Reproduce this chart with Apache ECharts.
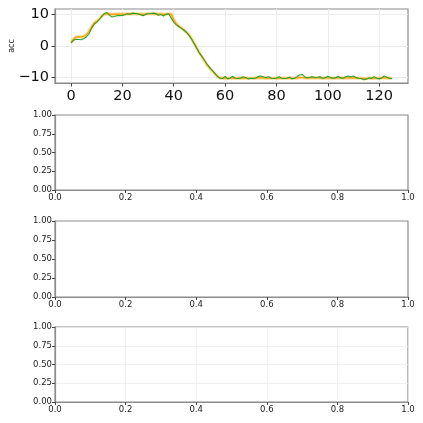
<!DOCTYPE html>
<html>
<head>
<meta charset="utf-8">
<script src="https://cdn.jsdelivr.net/npm/echarts@6/dist/echarts.min.js"></script>
<style>
  html, body { margin: 0; padding: 0; background: #fff; }
  #chart { width: 423px; height: 423px; }
</style>
</head>
<body>
<div id="chart"></div>
<script>
// step index 0..125
const steps = Array.from({length: 126}, (_, i) => i);

// green: measured acc
const accGreen = [
  0.9, 1.8, 2.1, 2.0, 1.9, 2.3, 2.8, 3.8, 5.5, 6.8,
  7.4, 8.3, 9.3, 10.2, 10.5, 9.6, 9.1, 9.3, 9.5, 9.5,
  9.6, 9.8, 10.1, 10.0, 10.3, 10.2, 10.1, 9.8, 9.5, 9.9,
  10.1, 10.2, 10.3, 10.2, 9.6, 9.9, 9.4, 9.9, 10.1, 8.8,
  7.4, 6.6, 6.0, 5.5, 4.9, 4.2, 3.2, 2.0, 0.6, -0.8,
  -2.3, -3.4, -4.6, -5.8, -6.8, -7.7, -8.6, -9.6, -10.2, -10.3,
  -9.6, -10.4, -10.1, -9.6, -10.2, -10.3, -10.1, -9.7, -10.0, -10.4,
  -10.2, -10.3, -10.1, -9.6, -9.5, -9.8, -10.0, -9.7, -10.2, -10.3,
  -10.1, -9.7, -10.2, -10.3, -10.2, -9.9, -10.4, -10.2, -9.7, -9.2,
  -9.0, -9.7, -10.1, -9.9, -9.7, -10.0, -9.9, -9.7, -10.2, -10.1,
  -9.6, -10.0, -10.2, -10.1, -9.6, -10.1, -10.2, -9.7, -9.5, -9.8,
  -9.5, -10.0, -10.2, -10.3, -10.7, -10.5, -10.1, -10.2, -9.7, -10.2,
  -10.4, -10.1, -9.5, -9.9, -10.3, -10.3
];

// orange: smoothed acc
const accOrange = [
  1.0, 2.2, 2.8, 2.9, 2.8, 3.0, 3.5, 4.6, 6.0, 7.2,
  7.8, 8.4, 9.4, 10.0, 10.1, 10.0, 9.9, 10.0, 10.0, 10.0,
  10.0, 10.0, 10.1, 10.0, 10.1, 10.1, 10.0, 10.0, 9.9, 10.0,
  10.1, 10.1, 10.1, 10.0, 10.0, 10.0, 9.9, 10.0, 10.0, 10.0,
  8.2, 7.0, 6.2, 5.6, 5.0, 4.3, 3.4, 2.2, 0.8, -0.7,
  -2.2, -3.4, -4.7, -6.0, -7.0, -7.9, -8.8, -9.6, -10.1, -10.2,
  -10.1, -10.2, -10.2, -10.1, -10.2, -10.2, -10.1, -10.2, -10.1, -10.2,
  -10.2, -10.2, -10.1, -10.1, -10.1, -10.1, -10.2, -10.1, -10.2, -10.2,
  -10.2, -10.1, -10.2, -10.2, -10.2, -10.1, -10.2, -10.2, -10.1, -10.0,
  -10.0, -10.1, -10.1, -10.1, -10.1, -10.1, -10.1, -10.1, -10.2, -10.1,
  -10.1, -10.1, -10.2, -10.1, -10.1, -10.1, -10.2, -10.1, -10.1, -10.1,
  -10.1, -10.1, -10.2, -10.2, -10.3, -10.3, -10.2, -10.2, -10.1, -10.2,
  -10.2, -10.1, -10.1, -10.1, -10.2, -10.2
];

const topXTicks = [0, 20, 40, 60, 80, 100, 120];
const topYTicks = [-10, 0, 10];

const FONT = 'DejaVu Sans';
const SPINE = '#8c8c8c';
const GRIDC = '#ececec';

const chart = echarts.init(document.getElementById('chart'));

const fmtMinus = v => String(v).replace('-', '\u2212');

const box = {show: true, borderColor: SPINE, borderWidth: 1.2, backgroundColor: 'transparent',
  containLabel: false, outerBoundsMode: 'none'};
const grids = [
  Object.assign({left: 55, right: 15, top: 9, height: 74}, box),
  Object.assign({left: 55, right: 15, top: 115, height: 75}, box),
  Object.assign({left: 55, right: 15, top: 221, height: 76}, box),
  Object.assign({left: 55, right: 15, top: 327, height: 75}, box)
];

function smallX(idx, showGrid) {
  return {
    type: 'value', gridIndex: idx, min: 0, max: 1, interval: 0.2,
    axisLine: {show: true, onZero: false, lineStyle: {color: SPINE, width: 1.2}},
    axisTick: {show: true, length: 3, lineStyle: {color: '#444'}},
    axisLabel: {fontFamily: FONT, fontSize: 8.5, color: '#222', margin: 3,
      formatter: v => v.toFixed(1)},
    splitLine: {show: showGrid, lineStyle: {color: GRIDC, width: 0.8}}
  };
}
function smallY(idx, showGrid) {
  return {
    type: 'value', gridIndex: idx, min: 0, max: 1, interval: 0.25,
    axisLine: {show: true, onZero: false, lineStyle: {color: SPINE, width: 1.2}},
    axisTick: {show: true, length: 3, lineStyle: {color: '#444'}},
    axisLabel: {fontFamily: FONT, fontSize: 8.5, color: '#222', margin: 3,
      formatter: v => v.toFixed(2)},
    splitLine: {show: showGrid, lineStyle: {color: GRIDC, width: 0.8}}
  };
}

const option = {
  animation: false,
  backgroundColor: '#fff',
  grid: grids,
  xAxis: [
    {
      type: 'value', gridIndex: 0, min: -6.25, max: 131.25,
      axisLine: {show: true, onZero: false, lineStyle: {color: SPINE, width: 1.2}},
      axisTick: {show: true, length: 3.5, lineStyle: {color: '#444'}, customValues: topXTicks},
      axisLabel: {fontFamily: FONT, fontSize: 14.5, color: '#111', margin: 6, customValues: topXTicks},
      splitLine: {show: true, lineStyle: {color: GRIDC, width: 1}}
    },
    smallX(1, false), smallX(2, false), smallX(3, true)
  ],
  yAxis: [
    {
      type: 'value', gridIndex: 0, min: -11.7, max: 11.6,
      name: 'acc', nameLocation: 'middle', nameGap: 39, nameMoveOverlap: false,
      nameTextStyle: {fontFamily: FONT, fontSize: 8, color: '#222'},
      axisLine: {show: true, onZero: false, lineStyle: {color: SPINE, width: 1.2}},
      axisTick: {show: true, length: 3.5, lineStyle: {color: '#444'}, customValues: topYTicks},
      axisLabel: {fontFamily: FONT, fontSize: 14.5, color: '#111', margin: 6,
        customValues: topYTicks, formatter: fmtMinus},
      splitLine: {show: true, lineStyle: {color: GRIDC, width: 1}}
    },
    smallY(1, false), smallY(2, false), smallY(3, true)
  ],
  series: [
    {
      type: 'line', xAxisIndex: 0, yAxisIndex: 0, showSymbol: false, silent: true,
      data: steps.map((s, i) => [s, accOrange[i]]),
      lineStyle: {color: '#ffa500', width: 3.5, opacity: 0.35}
    },
    {
      type: 'line', xAxisIndex: 0, yAxisIndex: 0, showSymbol: false,
      data: steps.map((s, i) => [s, accOrange[i]]),
      lineStyle: {color: '#f59a00', width: 1.1}
    },
    {
      type: 'line', xAxisIndex: 0, yAxisIndex: 0, showSymbol: false,
      data: steps.map((s, i) => [s, accGreen[i]]),
      lineStyle: {color: '#2ca02c', width: 1.1}
    },
    {type: 'line', xAxisIndex: 1, yAxisIndex: 1, data: []},
    {type: 'line', xAxisIndex: 2, yAxisIndex: 2, data: []},
    {type: 'line', xAxisIndex: 3, yAxisIndex: 3, data: []}
  ]
};

chart.setOption(option);
</script>
</body>
</html>
